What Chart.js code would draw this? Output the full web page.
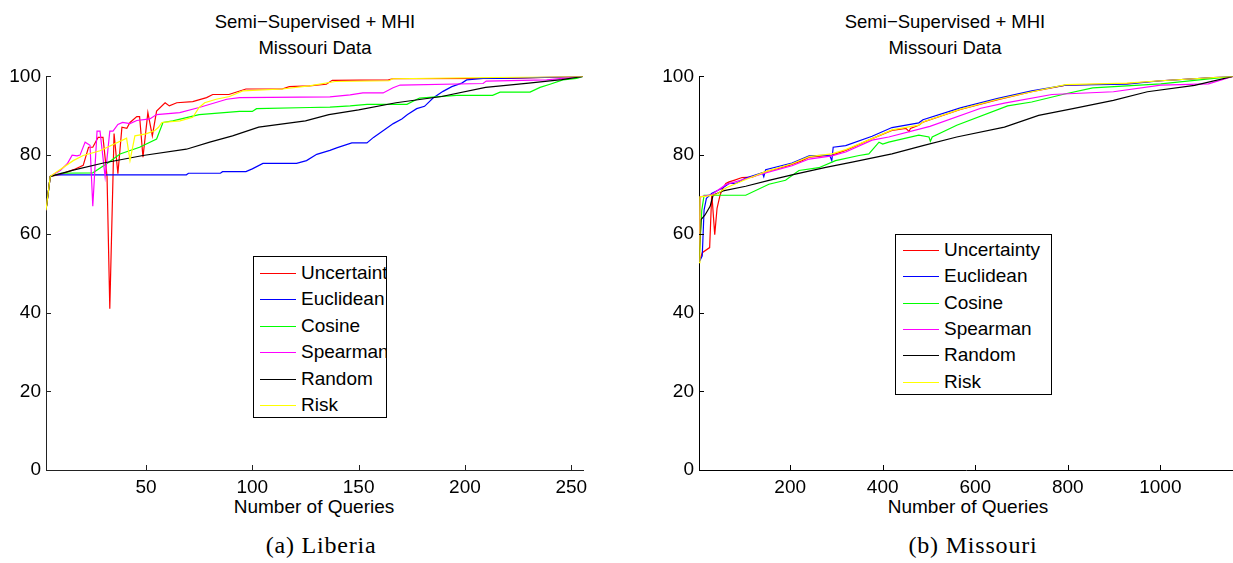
<!DOCTYPE html>
<html>
<head>
<meta charset="utf-8">
<script src="https://cdn.jsdelivr.net/npm/chart.js@4.4.0/dist/chart.umd.min.js"></script>
<style>
body { margin: 0; background: #fff; width: 1233px; height: 563px; position: relative; overflow: hidden;
       font-family: "Liberation Sans", Arial, sans-serif; color: #000; }
canvas { position: absolute; }
.t { position: absolute; transform: translateX(-50%); white-space: nowrap; font-size: 18.5px; text-align: center; }
.cap { position: absolute; transform: translateX(-50%); white-space: nowrap; font-family: "Liberation Serif", serif;
       font-size: 24px; letter-spacing: 0.8px; line-height: 24px; }
.legend { position: absolute; border: 1px solid #000; background: #fff; box-sizing: border-box; overflow: hidden; }
.row { position: absolute; height: 22px; line-height: 22px; font-size: 19px; white-space: nowrap; }
.row div.ln { position: absolute; top: 11px; width: 36px; height: 1px; }
.row span.tx { position: absolute; }
</style>
</head>
<body>

<div class="t" style="left:315px; top:9px; line-height:26px;">Semi&minus;Supervised + MHI<br>Missouri Data</div>
<div class="t" style="left:945px; top:9px; line-height:26px;">Semi&minus;Supervised + MHI<br>Missouri Data</div>
<div class="t" style="left:314px; top:496px; line-height:22px; font-size:19px;">Number of Queries</div>
<div class="t" style="left:968px; top:496px; line-height:22px; font-size:19px;">Number of Queries</div>
<div class="cap" style="left:321px; top:533px;">(a) Liberia</div>
<div class="cap" style="left:973px; top:533px;">(b) Missouri</div>

<canvas id="liberia" width="600" height="440" style="left:0; top:60px;"></canvas>
<canvas id="missouri" width="580" height="440" style="left:653px; top:60px;"></canvas>

<div class="legend" id="legL" style="left:253px; top:256px; width:134px; height:162px;"></div>
<div class="legend" id="legR" style="left:895px; top:234px; width:157px; height:161px;"></div>

<script>
// series names and colours (same for both panels)
var seriesNames = ['Uncertainty', 'Euclidean', 'Cosine', 'Spearman', 'Random', 'Risk'];
var seriesColors = ['#ff0000', '#0000ff', '#00ff00', '#ff00ff', '#000000', '#ffff00'];

var yTicks = [0, 20, 40, 60, 80, 100];

// (a) Liberia : [query, accuracy]
var libXTicks = [50, 100, 150, 200, 250];
var libUncertainty = [[3,66],[5,74.6],[10,75.1],[16,76.3],[20.5,77.4],[23,82],[25,82],[27.5,84.5],[29.8,84.5],[31.7,74.6],[33,41],[35,85.5],[36.8,75.3],[38.7,87.1],[41,86.8],[42.5,88.3],[45.7,89.8],[47,89.8],[48.6,79.5],[50.9,90.8],[53,84.9],[55,91.2],[59,93.3],[61,92.5],[64.5,93.3],[72,93.6],[74,93.9],[78.5,94.6],[81.4,95.4],[89,95.4],[97,96.8],[114,96.8],[117.4,97.4],[126.8,97.6],[134.8,98.0],[137.6,99.0],[164,99.1],[166,99.4],[220,99.5],[255.5,100]];
var libEuclidean = [[3,66],[5,74.6],[7,75],[69,75],[70,75.4],[85,75.4],[86,75.8],[97,75.8],[100,76.5],[105,77.9],[120.8,77.9],[125.5,78.6],[130.3,80.2],[136.5,81.2],[140,81.9],[146.8,83.1],[153.9,83.1],[157,84.5],[166.3,88],[170.3,89.2],[173,90.3],[177.3,91.8],[181,92.4],[185,94.5],[189.7,96.2],[193.8,97.4],[198.5,98.3],[200.8,99.1],[208.5,99.5],[216.5,99.5],[255.5,100]];
var libCosine = [[3,66],[5,74.6],[10,75.4],[25,75.5],[31.7,77.9],[37.8,80.3],[47,82],[55,84.1],[58,88.3],[62.6,88.7],[75,90.3],[94,91.1],[100,91.1],[102,91.8],[127,92.1],[136.5,92.2],[146,92.5],[154,92.9],[172.7,92.9],[178.6,94.5],[196,95.2],[213,95.2],[216.5,96.0],[230.6,96.0],[235.3,97.2],[240,98.0],[246,99.1],[252.5,99.5],[255.5,100]];
var libSpearman = [[3,66],[5,74.6],[9.7,76.1],[13,77.8],[15.3,80],[17.6,79.8],[19,80],[21.4,83.3],[23.7,82.5],[25,67],[27,86.1],[28.4,86.1],[30.8,74.5],[33,86.1],[34.5,86.1],[36.8,87.8],[39,88.3],[42.5,88],[45.7,88.8],[51.8,89.2],[55,90.3],[65.9,90.8],[75,92.1],[88,94.2],[94,94.6],[136.5,94.8],[146,95.3],[152,95.8],[161.5,95.8],[166.2,97.1],[169.5,97.8],[208.5,98.2],[210,98.8],[238.4,99.1],[255.5,100]];
var libRandom = [[3,66],[5,74.6],[15.8,76.2],[30,78.0],[48.6,79.9],[69,81.5],[80,83.3],[90.7,84.9],[103,87.1],[125,88.7],[136,90.3],[150,91.5],[167.6,93.3],[189,94.9],[209.7,97.2],[230,98.3],[245.5,99.2],[255.5,100]];
var libRisk = [[3,66],[5,74.6],[15.8,78.6],[20.5,79.9],[28.4,81.1],[40.9,84.3],[42.5,78.6],[44.8,84.9],[50,85.4],[54,86.2],[55.8,87],[57.5,88.3],[66,88.7],[72,89.6],[75,92.1],[77.6,93.3],[83,94.2],[89.3,94.9],[95.5,96.3],[114,96.8],[126.8,97.6],[139,98.7],[164.3,98.9],[166,99.4],[255.5,100]];

// (b) Missouri : [query, accuracy]
var misXTicks = [200, 400, 600, 800, 1000];
var misUncertainty = [[3,52.7],[10,55.2],[26,56.5],[30.6,70.3],[37,59.8],[42,66.5],[48,69.6],[52,71],[61,72.8],[68,73.2],[78.6,73.6],[96,74.3],[117.6,74.4],[147,75.8],[168.6,76.4],[197.6,77.4],[225.6,78.6],[241,79.5],[290,80.0],[320,81.2],[377,84.2],[420,86.3],[450,86.8],[457,86],[460,86.8],[478,87.6],[487,88.4],[568,91.6],[649,94.1],[722,96.1],[795.6,97.8],[927.6,98.2],[1001,98.9],[1157,100]];
var misEuclidean = [[3,52.7],[10,54.4],[14,66.1],[19,69],[31,70.3],[53,71.6],[68,72.8],[82.6,72.8],[104,74.2],[140,75.5],[143,74.5],[147,76.3],[204,78.0],[241,79.8],[285,80.0],[290,78.6],[293,82.0],[320,82.4],[377,84.8],[420,87.0],[478,88.2],[487,89.0],[568,92.0],[649,94.4],[722,96.3],[795.6,97.8],[927.6,98.0],[1001,98.9],[1157,100]];
var misCosine = [[3,52.7],[9,66],[14,69.8],[104,69.8],[154,72.6],[190,73.6],[219,76.1],[262,76.8],[298,78.6],[349,79.9],[370,80.3],[392,83.3],[400,82.8],[413,83.3],[478,85.1],[500,84.6],[503,83.5],[507,84.6],[560,87.6],[670,92.5],[722,93.5],[795.6,95.6],[854,97.1],[1001,98.1],[1157,100]];
var misSpearman = [[3,52.7],[6,69.4],[31,70],[61,72.5],[104,74.0],[147,75.5],[204,77.3],[241,79.0],[290,79.8],[320,80.8],[377,83.8],[413,84.6],[502,87.3],[612,91.9],[663,93.2],[765.6,95.4],[898.5,96.1],[1001,97.8],[1104,98.1],[1157,100]];
var misRandom = [[3,52.7],[7.3,63.6],[16,64.8],[27,67],[33.5,69.8],[55,70.9],[104,72.1],[154,73.6],[204,75],[277,76.9],[334,78.2],[420,80.3],[487,82.4],[560,84.6],[663,87.1],[737,90.1],[811,91.8],[898.5,93.9],[972,96.1],[1074,97.7],[1157,100]];
var misRisk = [[3,52.7],[5,69.4],[20,69.6],[40,70],[62,71.7],[104,73.8],[147,75.8],[204,77.8],[241,79.6],[290,80.3],[320,81.4],[377,84.2],[420,86.4],[478,87.6],[487,88.4],[568,91.7],[649,94.2],[722,96.1],[795.6,97.9],[927.6,98.3],[1001,98.9],[1157,100]];

// ticks pointing into the plot, like matlab
var innerTicks = {
    id: 'innerTicks',
    afterDraw: function(chart) {
        var ctx = chart.ctx;
        var a = chart.chartArea;
        var xs = chart.scales.x, ys = chart.scales.y;
        ctx.save();
        ctx.strokeStyle = chart.options.plugins.innerTicks.color;
        ctx.lineWidth = 1;
        xs.ticks.forEach(function(t) {
            var px = Math.round(xs.getPixelForValue(t.value)) + 0.5;
            ctx.beginPath(); ctx.moveTo(px, a.bottom); ctx.lineTo(px, a.bottom - 5); ctx.stroke();
        });
        ys.ticks.forEach(function(t) {
            var py = Math.round(ys.getPixelForValue(t.value)) + 0.5;
            ctx.beginPath(); ctx.moveTo(a.left, py); ctx.lineTo(a.left + 5, py); ctx.stroke();
        });
        ctx.restore();
    }
};

function toPts(arr) {
    return arr.map(function(p) { return { x: p[0], y: p[1] }; });
}

function makeChart(id, series, xMin, xMax, xTicks, padRight, axisColor) {
    var datasets = series.map(function(s, i) {
        return {
            label: seriesNames[i],
            data: toPts(s),
            borderColor: seriesColors[i],
            borderWidth: 1.2,
            pointRadius: 0,
            tension: 0,
            fill: false,
            order: series.length - i
        };
    });
    var font = { family: '"Liberation Sans", Arial, sans-serif', size: 19 };
    return new Chart(document.getElementById(id), {
        type: 'line',
        data: { datasets: datasets },
        options: {
            responsive: false,
            animation: false,
            devicePixelRatio: 1,
            layout: { padding: { top: 12, right: padRight, left: 0, bottom: 0 } },
            plugins: { legend: { display: false }, tooltip: { enabled: false }, innerTicks: { color: axisColor } },
            scales: {
                x: {
                    type: 'linear', min: xMin, max: xMax,
                    grid: { display: false, drawTicks: false },
                    border: { display: true, color: axisColor, width: 1 },
                    afterBuildTicks: function(s) { s.ticks = xTicks.map(function(v) { return { value: v }; }); },
                    afterFit: function(s) { s.height = 30; },
                    ticks: { color: '#000', font: font, padding: 6, maxRotation: 0,
                             callback: function(v) { return String(v); } }
                },
                y: {
                    type: 'linear', min: 0, max: 100,
                    grid: { display: false, drawTicks: false },
                    border: { display: true, color: axisColor, width: 1 },
                    afterBuildTicks: function(s) { s.ticks = yTicks.map(function(v) { return { value: v }; }); },
                    afterFit: function(s) { s.width = 46; },
                    ticks: { color: '#000', font: font, padding: 5,
                             callback: function(v) { return String(v); } }
                }
            }
        },
        plugins: [innerTicks]
    });
}

function makeLegend(id, lineLeft, textLeft, firstRow, rowStep) {
    var box = document.getElementById(id);
    seriesNames.forEach(function(name, i) {
        var row = document.createElement('div');
        row.className = 'row';
        row.style.left = '0px';
        row.style.top = Math.round(firstRow + rowStep * i - 11) + 'px';
        row.innerHTML = '<div class="ln" style="left:' + lineLeft + 'px; background:' + seriesColors[i] + ';"></div>' +
                        '<span class="tx" style="left:' + textLeft + 'px;">' + name + '</span>';
        box.appendChild(row);
    });
}

makeChart('liberia', [libUncertainty, libEuclidean, libCosine, libSpearman, libRandom, libRisk], 3, 255.5, libXTicks, 17, '#222');
makeChart('missouri', [misUncertainty, misEuclidean, misCosine, misSpearman, misRandom, misRisk], 3, 1157, misXTicks, 0, '#000');
makeLegend('legL', 6, 47, 16, 26.4);
makeLegend('legR', 7, 48, 15, 26.3);
</script>
</body>
</html>
